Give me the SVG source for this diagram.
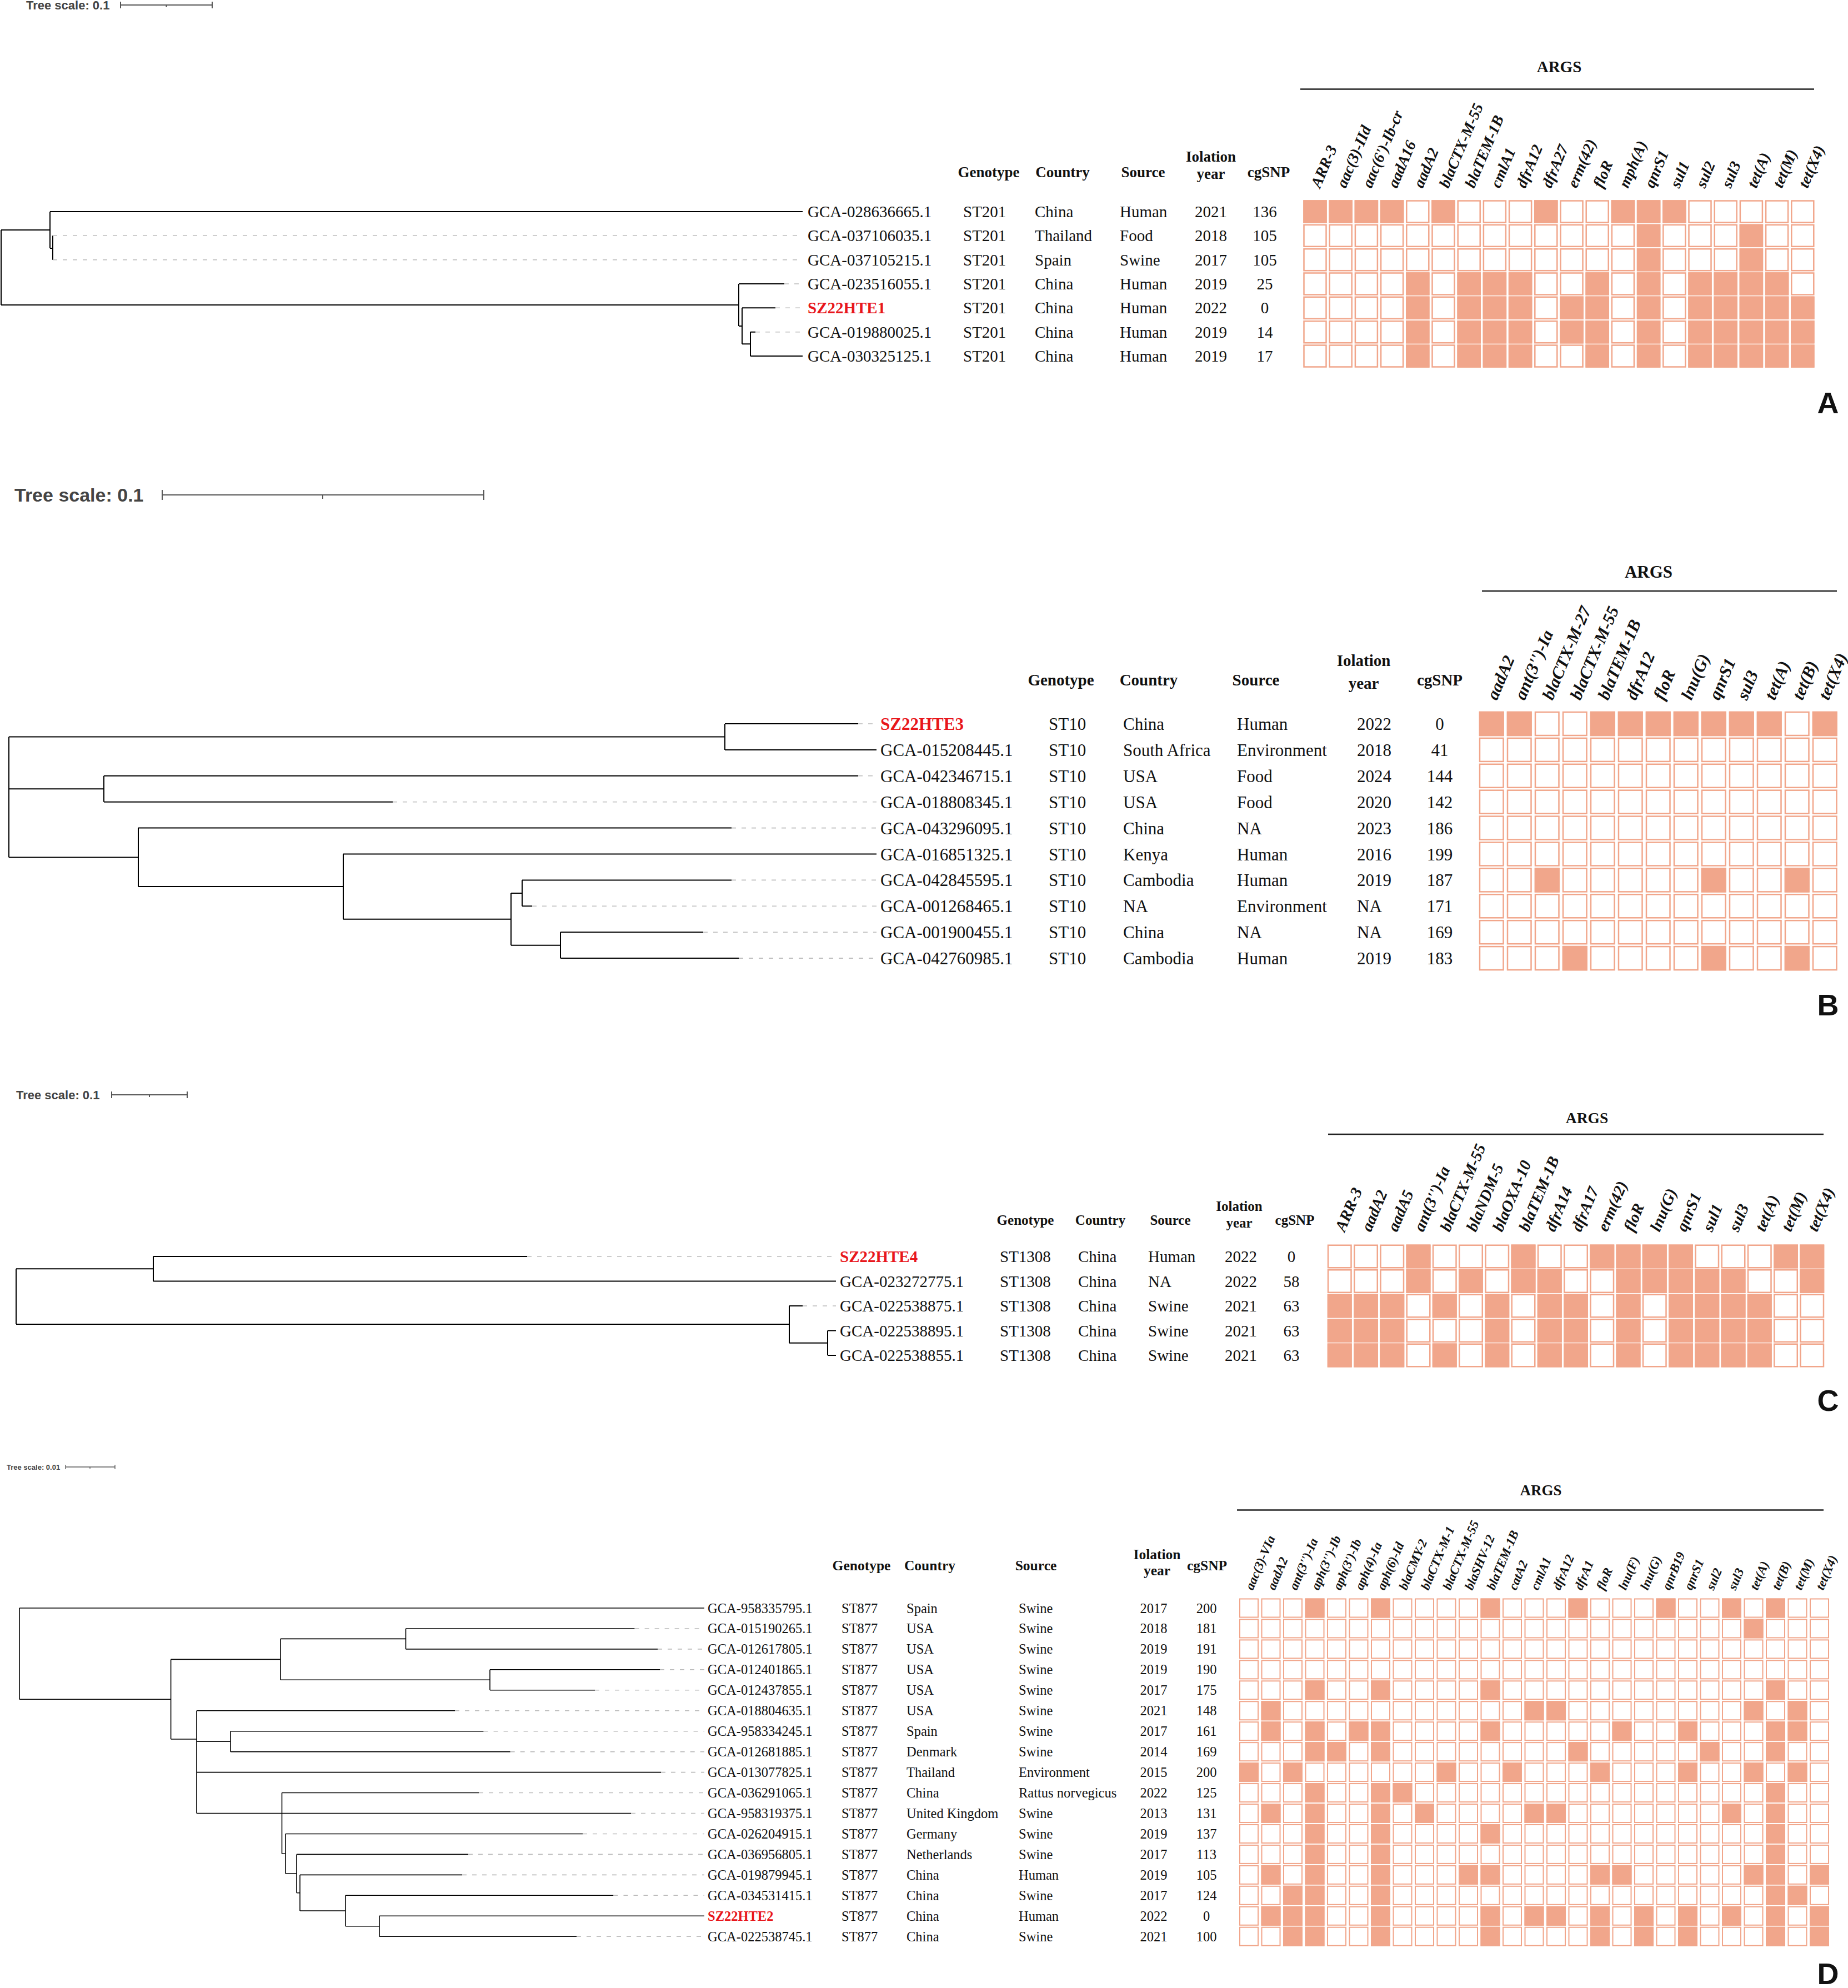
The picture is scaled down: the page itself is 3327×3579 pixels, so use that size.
<svg xmlns="http://www.w3.org/2000/svg" xmlns:xlink="http://www.w3.org/1999/xlink" width="3327" height="3579" viewBox="0 0 3327 3579">
<style>
.t{font-family:"Liberation Serif","Times New Roman",serif;fill:#111}
.h{font-weight:bold}
.m{text-anchor:middle}
.red{fill:#E8161B;font-weight:bold}
.g{font-family:"Liberation Serif","Times New Roman",serif;font-style:italic;font-weight:bold;fill:#111}
.sc{font-family:"Liberation Sans",Arial,sans-serif;font-weight:bold;fill:#444}
.pl{font-family:"Liberation Sans",Arial,sans-serif;font-weight:bold;fill:#111;font-size:54px;text-anchor:middle}
.br{stroke:#000;stroke-width:2;fill:none}
.brd{stroke:#000;stroke-width:1.6;fill:none}
.ds{stroke:#bbb;stroke-width:1.6;stroke-dasharray:8 10;fill:none}
.bar{stroke:#555;stroke-width:2;fill:none}
.f{fill:#F1A68B}
.e{fill:#fff}
.hm{stroke:#F1A68B;stroke-width:2.5}
.hmd{stroke:#F1A68B;stroke-width:2}
.rule{stroke:#222;stroke-width:2.5}
.fa{font-size:29px}.ha{font-size:27px}.ga{font-size:28px}
.fb{font-size:31px}.hb{font-size:29px}.gb{font-size:31px}
.fc{font-size:29px}.hc{font-size:25px}.gc{font-size:29px}
.fd{font-size:24.5px}.hd{font-size:25.5px}.gd{font-size:23px}
</style>
<defs>
<rect id="ca" width="40" height="39"/>
<rect id="cb" width="42.5" height="42"/>
<rect id="cc" width="41.5" height="40.5"/>
<rect id="cd" width="33" height="33"/>
<g id="rowA" class="e">
<use href="#ca" x="2347.5"/><use href="#ca" x="2393.7"/><use href="#ca" x="2439.9"/><use href="#ca" x="2486.1"/><use href="#ca" x="2532.3"/><use href="#ca" x="2578.5"/><use href="#ca" x="2624.7"/><use href="#ca" x="2670.9"/><use href="#ca" x="2717.1"/><use href="#ca" x="2763.3"/><use href="#ca" x="2809.5"/><use href="#ca" x="2855.7"/><use href="#ca" x="2901.9"/><use href="#ca" x="2948.1"/><use href="#ca" x="2994.3"/><use href="#ca" x="3040.5"/><use href="#ca" x="3086.7"/><use href="#ca" x="3132.9"/><use href="#ca" x="3179.1"/><use href="#ca" x="3225.3"/>
</g>
<g id="rowB" class="e">
<use href="#cb" x="2664"/><use href="#cb" x="2714"/><use href="#cb" x="2764"/><use href="#cb" x="2814"/><use href="#cb" x="2864"/><use href="#cb" x="2914"/><use href="#cb" x="2964"/><use href="#cb" x="3014"/><use href="#cb" x="3064"/><use href="#cb" x="3114"/><use href="#cb" x="3164"/><use href="#cb" x="3214"/><use href="#cb" x="3264"/>
</g>
<g id="rowC" class="e">
<use href="#cc" x="2391"/><use href="#cc" x="2438.25"/><use href="#cc" x="2485.5"/><use href="#cc" x="2532.75"/><use href="#cc" x="2580"/><use href="#cc" x="2627.25"/><use href="#cc" x="2674.5"/><use href="#cc" x="2721.75"/><use href="#cc" x="2769"/><use href="#cc" x="2816.25"/><use href="#cc" x="2863.5"/><use href="#cc" x="2910.75"/><use href="#cc" x="2958"/><use href="#cc" x="3005.25"/><use href="#cc" x="3052.5"/><use href="#cc" x="3099.75"/><use href="#cc" x="3147"/><use href="#cc" x="3194.25"/><use href="#cc" x="3241.5"/>
</g>
<g id="rowD" class="e">
<use href="#cd" x="2232"/><use href="#cd" x="2271.5"/><use href="#cd" x="2311"/><use href="#cd" x="2350.5"/><use href="#cd" x="2390"/><use href="#cd" x="2429.5"/><use href="#cd" x="2469"/><use href="#cd" x="2508.5"/><use href="#cd" x="2548"/><use href="#cd" x="2587.5"/><use href="#cd" x="2627"/><use href="#cd" x="2666.5"/><use href="#cd" x="2706"/><use href="#cd" x="2745.5"/><use href="#cd" x="2785"/><use href="#cd" x="2824.5"/><use href="#cd" x="2864"/><use href="#cd" x="2903.5"/><use href="#cd" x="2943"/><use href="#cd" x="2982.5"/><use href="#cd" x="3022"/><use href="#cd" x="3061.5"/><use href="#cd" x="3101"/><use href="#cd" x="3140.5"/><use href="#cd" x="3180"/><use href="#cd" x="3219.5"/><use href="#cd" x="3259"/>
</g>
</defs>
<rect width="3327" height="3579" fill="#fff"/>

<!-- ===================== PANEL A ===================== -->
<g id="panelA">
<g id="scaleA">
<text class="sc" x="47" y="17" font-size="22">Tree scale: 0.1</text>
<path class="bar" d="M217,9H382M217,3V15M382,3V15M299.5,9V13"/>
</g>
<g id="connectorsA">
<path class="br" d="M2,414V549M2,414H90M90,381V447M90,381H1445M90,447H95M95,424.3V467.7M2,549H1330M1330,511V587M1330,511H1412M1330,587H1336M1336,554.3V619.3M1336,554.3H1396M1336,619.3H1351M1351,597.7V641M1351,597.7H1360M1351,641H1445"/>
<path class="ds" d="M95,424.3H1445M95,467.7H1445M1412,511H1445M1396,554.3H1445M1360,597.7H1445"/>
</g>
<g id="headA" class="t h ha">
<text class="m" x="1780" y="319">Genotype</text>
<text class="m" x="1913" y="319">Country</text>
<text class="m" x="2058" y="319">Source</text>
<text class="m" x="2180" y="291">Iolation</text>
<text class="m" x="2180" y="322">year</text>
<text class="m" x="2284" y="319">cgSNP</text>
</g>
<g id="rowsA" class="t fa">
<g id="A-r0"><text x="1454" y="391">GCA-028636665.1</text><text x="1734" y="391">ST201</text><text x="1863" y="391">China</text><text x="2016" y="391">Human</text><text class="m" x="2180" y="391">2021</text><text class="m" x="2277" y="391">136</text></g>
<g id="A-r1"><text x="1454" y="434.3">GCA-037106035.1</text><text x="1734" y="434.3">ST201</text><text x="1863" y="434.3">Thailand</text><text x="2016" y="434.3">Food</text><text class="m" x="2180" y="434.3">2018</text><text class="m" x="2277" y="434.3">105</text></g>
<g id="A-r2"><text x="1454" y="477.7">GCA-037105215.1</text><text x="1734" y="477.7">ST201</text><text x="1863" y="477.7">Spain</text><text x="2016" y="477.7">Swine</text><text class="m" x="2180" y="477.7">2017</text><text class="m" x="2277" y="477.7">105</text></g>
<g id="A-r3"><text x="1454" y="521">GCA-023516055.1</text><text x="1734" y="521">ST201</text><text x="1863" y="521">China</text><text x="2016" y="521">Human</text><text class="m" x="2180" y="521">2019</text><text class="m" x="2277" y="521">25</text></g>
<g id="A-r4"><text class="red" x="1454" y="564.3">SZ22HTE1</text><text x="1734" y="564.3">ST201</text><text x="1863" y="564.3">China</text><text x="2016" y="564.3">Human</text><text class="m" x="2180" y="564.3">2022</text><text class="m" x="2277" y="564.3">0</text></g>
<g id="A-r5"><text x="1454" y="607.7">GCA-019880025.1</text><text x="1734" y="607.7">ST201</text><text x="1863" y="607.7">China</text><text x="2016" y="607.7">Human</text><text class="m" x="2180" y="607.7">2019</text><text class="m" x="2277" y="607.7">14</text></g>
<g id="A-r6"><text x="1454" y="651">GCA-030325125.1</text><text x="1734" y="651">ST201</text><text x="1863" y="651">China</text><text x="2016" y="651">Human</text><text class="m" x="2180" y="651">2019</text><text class="m" x="2277" y="651">17</text></g>
</g>
<g id="argsA">
<text class="t h m" x="2807" y="130" font-size="29">ARGS</text>
<path class="rule" d="M2341,160.5H3266"/>
</g>
<g id="genesA" class="g ga">
<text transform="translate(2376.5 340) rotate(-67)">ARR-3</text>
<text transform="translate(2422.7 340) rotate(-67)">aac(3)-IId</text>
<text transform="translate(2468.9 340) rotate(-67)">aac(6')-Ib-cr</text>
<text transform="translate(2515.1 340) rotate(-67)">aadA16</text>
<text transform="translate(2561.3 340) rotate(-67)">aadA2</text>
<text transform="translate(2607.5 340) rotate(-67)">blaCTX-M-55</text>
<text transform="translate(2653.7 340) rotate(-67)">blaTEM-1B</text>
<text transform="translate(2699.9 340) rotate(-67)">cmlA1</text>
<text transform="translate(2746.1 340) rotate(-67)">dfrA12</text>
<text transform="translate(2792.3 340) rotate(-67)">dfrA27</text>
<text transform="translate(2838.5 340) rotate(-67)">erm(42)</text>
<text transform="translate(2884.7 340) rotate(-67)">floR</text>
<text transform="translate(2930.9 340) rotate(-67)">mph(A)</text>
<text transform="translate(2977.1 340) rotate(-67)">qnrS1</text>
<text transform="translate(3023.3 340) rotate(-67)">sul1</text>
<text transform="translate(3069.5 340) rotate(-67)">sul2</text>
<text transform="translate(3115.7 340) rotate(-67)">sul3</text>
<text transform="translate(3161.9 340) rotate(-67)">tet(A)</text>
<text transform="translate(3208.1 340) rotate(-67)">tet(M)</text>
<text transform="translate(3254.3 340) rotate(-67)">tet(X4)</text>
</g>
<g id="heatA" class="hm">
<use href="#rowA" y="361.5"/><use href="#rowA" y="404.8"/><use href="#rowA" y="448.2"/><use href="#rowA" y="491.5"/><use href="#rowA" y="534.8"/><use href="#rowA" y="578.2"/><use href="#rowA" y="621.5"/>
<g class="f">
<use href="#ca" x="2347.5" y="361.5"/><use href="#ca" x="2393.7" y="361.5"/><use href="#ca" x="2439.9" y="361.5"/><use href="#ca" x="2486.1" y="361.5"/><use href="#ca" x="2578.5" y="361.5"/><use href="#ca" x="2763.3" y="361.5"/><use href="#ca" x="2901.9" y="361.5"/><use href="#ca" x="2948.1" y="361.5"/><use href="#ca" x="2994.3" y="361.5"/>
<use href="#ca" x="2948.1" y="404.8"/><use href="#ca" x="3132.9" y="404.8"/>
<use href="#ca" x="2948.1" y="448.2"/><use href="#ca" x="3132.9" y="448.2"/>
<use href="#ca" x="2532.3" y="491.5"/><use href="#ca" x="2624.7" y="491.5"/><use href="#ca" x="2670.9" y="491.5"/><use href="#ca" x="2717.1" y="491.5"/><use href="#ca" x="2855.7" y="491.5"/><use href="#ca" x="2948.1" y="491.5"/><use href="#ca" x="3040.5" y="491.5"/><use href="#ca" x="3086.7" y="491.5"/><use href="#ca" x="3132.9" y="491.5"/><use href="#ca" x="3179.1" y="491.5"/>
<use href="#ca" x="2532.3" y="534.8"/><use href="#ca" x="2624.7" y="534.8"/><use href="#ca" x="2670.9" y="534.8"/><use href="#ca" x="2717.1" y="534.8"/><use href="#ca" x="2809.5" y="534.8"/><use href="#ca" x="2855.7" y="534.8"/><use href="#ca" x="2948.1" y="534.8"/><use href="#ca" x="3040.5" y="534.8"/><use href="#ca" x="3086.7" y="534.8"/><use href="#ca" x="3132.9" y="534.8"/><use href="#ca" x="3179.1" y="534.8"/><use href="#ca" x="3225.3" y="534.8"/>
<use href="#ca" x="2532.3" y="578.2"/><use href="#ca" x="2624.7" y="578.2"/><use href="#ca" x="2670.9" y="578.2"/><use href="#ca" x="2717.1" y="578.2"/><use href="#ca" x="2809.5" y="578.2"/><use href="#ca" x="2855.7" y="578.2"/><use href="#ca" x="2948.1" y="578.2"/><use href="#ca" x="3040.5" y="578.2"/><use href="#ca" x="3086.7" y="578.2"/><use href="#ca" x="3132.9" y="578.2"/><use href="#ca" x="3179.1" y="578.2"/><use href="#ca" x="3225.3" y="578.2"/>
<use href="#ca" x="2532.3" y="621.5"/><use href="#ca" x="2624.7" y="621.5"/><use href="#ca" x="2670.9" y="621.5"/><use href="#ca" x="2717.1" y="621.5"/><use href="#ca" x="2855.7" y="621.5"/><use href="#ca" x="2948.1" y="621.5"/><use href="#ca" x="3040.5" y="621.5"/><use href="#ca" x="3086.7" y="621.5"/><use href="#ca" x="3132.9" y="621.5"/><use href="#ca" x="3179.1" y="621.5"/><use href="#ca" x="3225.3" y="621.5"/>
</g>
</g>
<text class="pl" x="3291" y="744">A</text>
</g>

<!-- ===================== PANEL B ===================== -->
<g id="panelB">
<g id="scaleB">
<text class="sc" x="26" y="903" font-size="34">Tree scale: 0.1</text>
<path class="bar" d="M292,891H871M292,882V900M871,882V900M581,891V898"/>
</g>
<g id="connectorsB">
<path class="br" d="M16,1326.5V1543.4M16,1326.5H1305M1305,1303V1349.9M1305,1303H1545M1305,1349.9H1578M16,1420.3H187M187,1396.8V1443.7M187,1396.8H1545M187,1443.7H707M16,1543.4H249M249,1490.6V1596.1M249,1490.6H1317M249,1596.1H618M618,1537.5V1654.8M618,1537.5H1578M618,1654.8H920M920,1607.9V1701.7M920,1607.9H940M940,1584.4V1631.3M940,1584.4H1317M940,1631.3H958M920,1701.7H1009M1009,1678.2V1725.1M1009,1678.2H1266M1009,1725.1H1330"/>
<path class="ds" d="M1545,1303H1578M1545,1396.8H1578M707,1443.7H1578M1317,1490.6H1578M1317,1584.4H1578M958,1631.3H1578M1266,1678.2H1578M1330,1725.1H1578"/>
</g>
<g id="headB" class="t h hb">
<text class="m" x="1910" y="1234">Genotype</text>
<text class="m" x="2068" y="1234">Country</text>
<text class="m" x="2261" y="1234">Source</text>
<text class="m" x="2455" y="1199">Iolation</text>
<text class="m" x="2455" y="1240">year</text>
<text class="m" x="2592" y="1234">cgSNP</text>
</g>
<g id="rowsB" class="t fb">
<g id="B-r0"><text class="red" x="1585" y="1314">SZ22HTE3</text><text x="1888" y="1314">ST10</text><text x="2022" y="1314">China</text><text x="2227" y="1314">Human</text><text x="2443" y="1314">2022</text><text class="m" x="2592" y="1314">0</text></g>
<g id="B-r1"><text x="1585" y="1360.9">GCA-015208445.1</text><text x="1888" y="1360.9">ST10</text><text x="2022" y="1360.9">South Africa</text><text x="2227" y="1360.9">Environment</text><text x="2443" y="1360.9">2018</text><text class="m" x="2592" y="1360.9">41</text></g>
<g id="B-r2"><text x="1585" y="1407.8">GCA-042346715.1</text><text x="1888" y="1407.8">ST10</text><text x="2022" y="1407.8">USA</text><text x="2227" y="1407.8">Food</text><text x="2443" y="1407.8">2024</text><text class="m" x="2592" y="1407.8">144</text></g>
<g id="B-r3"><text x="1585" y="1454.7">GCA-018808345.1</text><text x="1888" y="1454.7">ST10</text><text x="2022" y="1454.7">USA</text><text x="2227" y="1454.7">Food</text><text x="2443" y="1454.7">2020</text><text class="m" x="2592" y="1454.7">142</text></g>
<g id="B-r4"><text x="1585" y="1501.6">GCA-043296095.1</text><text x="1888" y="1501.6">ST10</text><text x="2022" y="1501.6">China</text><text x="2227" y="1501.6">NA</text><text x="2443" y="1501.6">2023</text><text class="m" x="2592" y="1501.6">186</text></g>
<g id="B-r5"><text x="1585" y="1548.5">GCA-016851325.1</text><text x="1888" y="1548.5">ST10</text><text x="2022" y="1548.5">Kenya</text><text x="2227" y="1548.5">Human</text><text x="2443" y="1548.5">2016</text><text class="m" x="2592" y="1548.5">199</text></g>
<g id="B-r6"><text x="1585" y="1595.4">GCA-042845595.1</text><text x="1888" y="1595.4">ST10</text><text x="2022" y="1595.4">Cambodia</text><text x="2227" y="1595.4">Human</text><text x="2443" y="1595.4">2019</text><text class="m" x="2592" y="1595.4">187</text></g>
<g id="B-r7"><text x="1585" y="1642.3">GCA-001268465.1</text><text x="1888" y="1642.3">ST10</text><text x="2022" y="1642.3">NA</text><text x="2227" y="1642.3">Environment</text><text x="2443" y="1642.3">NA</text><text class="m" x="2592" y="1642.3">171</text></g>
<g id="B-r8"><text x="1585" y="1689.2">GCA-001900455.1</text><text x="1888" y="1689.2">ST10</text><text x="2022" y="1689.2">China</text><text x="2227" y="1689.2">NA</text><text x="2443" y="1689.2">NA</text><text class="m" x="2592" y="1689.2">169</text></g>
<g id="B-r9"><text x="1585" y="1736.1">GCA-042760985.1</text><text x="1888" y="1736.1">ST10</text><text x="2022" y="1736.1">Cambodia</text><text x="2227" y="1736.1">Human</text><text x="2443" y="1736.1">2019</text><text class="m" x="2592" y="1736.1">183</text></g>
</g>
<g id="argsB">
<text class="t h m" x="2968" y="1040" font-size="31">ARGS</text>
<path class="rule" d="M2668,1064H3307"/>
</g>
<g id="genesB" class="g gb">
<text transform="translate(2695 1262) rotate(-67)">aadA2</text>
<text transform="translate(2745 1262) rotate(-67)">ant(3'')-Ia</text>
<text transform="translate(2795 1262) rotate(-67)">blaCTX-M-27</text>
<text transform="translate(2845 1262) rotate(-67)">blaCTX-M-55</text>
<text transform="translate(2895 1262) rotate(-67)">blaTEM-1B</text>
<text transform="translate(2945 1262) rotate(-67)">dfrA12</text>
<text transform="translate(2995 1262) rotate(-67)">floR</text>
<text transform="translate(3045 1262) rotate(-67)">lnu(G)</text>
<text transform="translate(3095 1262) rotate(-67)">qnrS1</text>
<text transform="translate(3145 1262) rotate(-67)">sul3</text>
<text transform="translate(3195 1262) rotate(-67)">tet(A)</text>
<text transform="translate(3245 1262) rotate(-67)">tet(B)</text>
<text transform="translate(3292 1262) rotate(-67)">tet(X4)</text>
</g>
<g id="heatB" class="hm">
<use href="#rowB" y="1282"/><use href="#rowB" y="1328.9"/><use href="#rowB" y="1375.8"/><use href="#rowB" y="1422.7"/><use href="#rowB" y="1469.6"/><use href="#rowB" y="1516.5"/><use href="#rowB" y="1563.4"/><use href="#rowB" y="1610.3"/><use href="#rowB" y="1657.2"/><use href="#rowB" y="1704.1"/>
<g class="f">
<use href="#cb" x="2664" y="1282"/><use href="#cb" x="2714" y="1282"/><use href="#cb" x="2864" y="1282"/><use href="#cb" x="2914" y="1282"/><use href="#cb" x="2964" y="1282"/><use href="#cb" x="3014" y="1282"/><use href="#cb" x="3064" y="1282"/><use href="#cb" x="3114" y="1282"/><use href="#cb" x="3164" y="1282"/><use href="#cb" x="3264" y="1282"/>
<use href="#cb" x="2764" y="1563.4"/><use href="#cb" x="3064" y="1563.4"/><use href="#cb" x="3214" y="1563.4"/>
<use href="#cb" x="2814" y="1704.1"/><use href="#cb" x="3064" y="1704.1"/><use href="#cb" x="3214" y="1704.1"/>
</g>
</g>
<text class="pl" x="3291" y="1828">B</text>
</g>

<!-- ===================== PANEL C ===================== -->
<g id="panelC">
<g id="scaleC">
<text class="sc" x="29" y="1979" font-size="22">Tree scale: 0.1</text>
<path class="bar" d="M201,1971H337M201,1965V1977M337,1965V1977M269,1971V1975"/>
</g>
<g id="connectorsC">
<path class="br" d="M29,2284.3V2384M29,2284.3H276M276,2262V2306.5M276,2262H949M276,2306.5H1505M29,2384H1421M1421,2351V2417.8M1421,2351H1445M1421,2417.8H1490M1490,2395.5V2440M1490,2395.5H1505M1490,2440H1505"/>
<path class="ds" d="M949,2262H1505M1445,2351H1505"/>
</g>
<g id="headC" class="t h hc">
<text class="m" x="1846" y="2205">Genotype</text>
<text class="m" x="1981" y="2205">Country</text>
<text class="m" x="2107" y="2205">Source</text>
<text class="m" x="2231" y="2180">Iolation</text>
<text class="m" x="2231" y="2210">year</text>
<text class="m" x="2331" y="2205">cgSNP</text>
</g>
<g id="rowsC" class="t fc">
<g id="C-r0"><text class="red" x="1512" y="2272">SZ22HTE4</text><text x="1800" y="2272">ST1308</text><text x="1941" y="2272">China</text><text x="2067" y="2272">Human</text><text class="m" x="2234" y="2272">2022</text><text class="m" x="2325" y="2272">0</text></g>
<g id="C-r1"><text x="1512" y="2316.5">GCA-023272775.1</text><text x="1800" y="2316.5">ST1308</text><text x="1941" y="2316.5">China</text><text x="2067" y="2316.5">NA</text><text class="m" x="2234" y="2316.5">2022</text><text class="m" x="2325" y="2316.5">58</text></g>
<g id="C-r2"><text x="1512" y="2361">GCA-022538875.1</text><text x="1800" y="2361">ST1308</text><text x="1941" y="2361">China</text><text x="2067" y="2361">Swine</text><text class="m" x="2234" y="2361">2021</text><text class="m" x="2325" y="2361">63</text></g>
<g id="C-r3"><text x="1512" y="2405.5">GCA-022538895.1</text><text x="1800" y="2405.5">ST1308</text><text x="1941" y="2405.5">China</text><text x="2067" y="2405.5">Swine</text><text class="m" x="2234" y="2405.5">2021</text><text class="m" x="2325" y="2405.5">63</text></g>
<g id="C-r4"><text x="1512" y="2450">GCA-022538855.1</text><text x="1800" y="2450">ST1308</text><text x="1941" y="2450">China</text><text x="2067" y="2450">Swine</text><text class="m" x="2234" y="2450">2021</text><text class="m" x="2325" y="2450">63</text></g>
</g>
<g id="argsC">
<text class="t h m" x="2857" y="2022" font-size="27.5">ARGS</text>
<path class="rule" d="M2391,2042H3283"/>
</g>
<g id="genesC" class="g gc">
<text transform="translate(2420.75 2219) rotate(-67)">ARR-3</text>
<text transform="translate(2468 2219) rotate(-67)">aadA2</text>
<text transform="translate(2515.25 2219) rotate(-67)">aadA5</text>
<text transform="translate(2562.5 2219) rotate(-67)">ant(3'')-Ia</text>
<text transform="translate(2609.75 2219) rotate(-67)">blaCTX-M-55</text>
<text transform="translate(2657 2219) rotate(-67)">blaNDM-5</text>
<text transform="translate(2704.25 2219) rotate(-67)">blaOXA-10</text>
<text transform="translate(2751.5 2219) rotate(-67)">blaTEM-1B</text>
<text transform="translate(2798.75 2219) rotate(-67)">dfrA14</text>
<text transform="translate(2846 2219) rotate(-67)">dfrA17</text>
<text transform="translate(2893.25 2219) rotate(-67)">erm(42)</text>
<text transform="translate(2940.5 2219) rotate(-67)">floR</text>
<text transform="translate(2987.75 2219) rotate(-67)">lnu(G)</text>
<text transform="translate(3035 2219) rotate(-67)">qnrS1</text>
<text transform="translate(3082.25 2219) rotate(-67)">sul1</text>
<text transform="translate(3129.5 2219) rotate(-67)">sul3</text>
<text transform="translate(3176.75 2219) rotate(-67)">tet(A)</text>
<text transform="translate(3224 2219) rotate(-67)">tet(M)</text>
<text transform="translate(3271.25 2219) rotate(-67)">tet(X4)</text>
</g>
<g id="heatC" class="hm">
<use href="#rowC" y="2241.75"/><use href="#rowC" y="2286.25"/><use href="#rowC" y="2330.75"/><use href="#rowC" y="2375.25"/><use href="#rowC" y="2419.75"/>
<g class="f">
<use href="#cc" x="2532.75" y="2241.75"/><use href="#cc" x="2721.75" y="2241.75"/><use href="#cc" x="2863.5" y="2241.75"/><use href="#cc" x="2910.75" y="2241.75"/><use href="#cc" x="2958" y="2241.75"/><use href="#cc" x="3005.25" y="2241.75"/><use href="#cc" x="3194.25" y="2241.75"/><use href="#cc" x="3241.5" y="2241.75"/>
<use href="#cc" x="2532.75" y="2286.25"/><use href="#cc" x="2627.25" y="2286.25"/><use href="#cc" x="2721.75" y="2286.25"/><use href="#cc" x="2769" y="2286.25"/><use href="#cc" x="2910.75" y="2286.25"/><use href="#cc" x="2958" y="2286.25"/><use href="#cc" x="3005.25" y="2286.25"/><use href="#cc" x="3052.5" y="2286.25"/><use href="#cc" x="3099.75" y="2286.25"/><use href="#cc" x="3241.5" y="2286.25"/>
<use href="#cc" x="2391" y="2330.75"/><use href="#cc" x="2438.25" y="2330.75"/><use href="#cc" x="2485.5" y="2330.75"/><use href="#cc" x="2580" y="2330.75"/><use href="#cc" x="2674.5" y="2330.75"/><use href="#cc" x="2769" y="2330.75"/><use href="#cc" x="2816.25" y="2330.75"/><use href="#cc" x="2910.75" y="2330.75"/><use href="#cc" x="3005.25" y="2330.75"/><use href="#cc" x="3052.5" y="2330.75"/><use href="#cc" x="3099.75" y="2330.75"/><use href="#cc" x="3147" y="2330.75"/>
<use href="#cc" x="2391" y="2375.25"/><use href="#cc" x="2438.25" y="2375.25"/><use href="#cc" x="2485.5" y="2375.25"/><use href="#cc" x="2674.5" y="2375.25"/><use href="#cc" x="2769" y="2375.25"/><use href="#cc" x="2816.25" y="2375.25"/><use href="#cc" x="2910.75" y="2375.25"/><use href="#cc" x="3005.25" y="2375.25"/><use href="#cc" x="3052.5" y="2375.25"/><use href="#cc" x="3099.75" y="2375.25"/><use href="#cc" x="3147" y="2375.25"/>
<use href="#cc" x="2391" y="2419.75"/><use href="#cc" x="2438.25" y="2419.75"/><use href="#cc" x="2485.5" y="2419.75"/><use href="#cc" x="2580" y="2419.75"/><use href="#cc" x="2674.5" y="2419.75"/><use href="#cc" x="2769" y="2419.75"/><use href="#cc" x="2816.25" y="2419.75"/><use href="#cc" x="2910.75" y="2419.75"/><use href="#cc" x="3005.25" y="2419.75"/><use href="#cc" x="3052.5" y="2419.75"/><use href="#cc" x="3099.75" y="2419.75"/><use href="#cc" x="3147" y="2419.75"/>
</g>
</g>
<text class="pl" x="3291" y="2540">C</text>
</g>

<!-- ===================== PANEL D ===================== -->
<g id="panelD">
<g id="scaleD">
<text class="sc" x="12" y="2646" font-size="13">Tree scale: 0.01</text>
<path class="bar" d="M118,2641H207M118,2637V2645M207,2637V2645M162,2641V2644" style="stroke-width:1.3"/>
</g>
<g id="connectorsD">
<path class="brd" d="M35,2895V3059.2M35,2895H1268M35,3059.2H307.6M307.6,2987.4V3131M307.6,2987.4H505M505,2950.4V3024.3M505,2950.4H730.5M730.5,2931.95V2968.9M730.5,2931.95H1142.6M730.5,2968.9H1184M505,3024.3H882M882,3005.85V3042.8M882,3005.85H1188M882,3042.8H1071M307.6,3131H354M354,3079.75V3264.5M354,3079.75H819M354,3135.2H415M415,3116.7V3153.65M415,3116.7H870.6M415,3153.65H918.7M354,3190.6H1190M354,3264.5H1136M507.5,3227.55V3337.2M507.5,3227.55H862M507.5,3337.2H514M514,3301.45V3373M514,3301.45H1049M514,3373H534M534,3338.4V3407.7M534,3338.4H843M534,3407.7H540M540,3375.35V3440M540,3375.35H832M540,3440H622M622,3412.3V3467.7M622,3412.3H1104.5M622,3467.7H683M683,3449.25V3486.2M683,3449.25H1268M683,3486.2H1038"/>
<path class="ds" d="M1142.6,2931.95H1268M1184,2968.9H1268M1188,3005.85H1268M1071,3042.8H1268M819,3079.75H1268M870.6,3116.7H1268M918.7,3153.65H1268M1190,3190.6H1268M862,3227.55H1268M1136,3264.5H1268M1049,3301.45H1268M843,3338.4H1268M832,3375.35H1268M1104.5,3412.3H1268M1038,3486.2H1268"/>
</g>
<g id="headD" class="t h hd">
<text class="m" x="1551" y="2827">Genotype</text>
<text class="m" x="1674" y="2827">Country</text>
<text class="m" x="1865" y="2827">Source</text>
<text class="m" x="2083" y="2807">Iolation</text>
<text class="m" x="2083" y="2836">year</text>
<text class="m" x="2173" y="2827">cgSNP</text>
</g>
<g id="rowsD" class="t fd">
<g id="D-r0"><text x="1274" y="2903.5">GCA-958335795.1</text><text x="1515" y="2903.5">ST877</text><text x="1632" y="2903.5">Spain</text><text x="1834" y="2903.5">Swine</text><text class="m" x="2077" y="2903.5">2017</text><text class="m" x="2172" y="2903.5">200</text></g>
<g id="D-r1"><text x="1274" y="2940.45">GCA-015190265.1</text><text x="1515" y="2940.45">ST877</text><text x="1632" y="2940.45">USA</text><text x="1834" y="2940.45">Swine</text><text class="m" x="2077" y="2940.45">2018</text><text class="m" x="2172" y="2940.45">181</text></g>
<g id="D-r2"><text x="1274" y="2977.4">GCA-012617805.1</text><text x="1515" y="2977.4">ST877</text><text x="1632" y="2977.4">USA</text><text x="1834" y="2977.4">Swine</text><text class="m" x="2077" y="2977.4">2019</text><text class="m" x="2172" y="2977.4">191</text></g>
<g id="D-r3"><text x="1274" y="3014.35">GCA-012401865.1</text><text x="1515" y="3014.35">ST877</text><text x="1632" y="3014.35">USA</text><text x="1834" y="3014.35">Swine</text><text class="m" x="2077" y="3014.35">2019</text><text class="m" x="2172" y="3014.35">190</text></g>
<g id="D-r4"><text x="1274" y="3051.3">GCA-012437855.1</text><text x="1515" y="3051.3">ST877</text><text x="1632" y="3051.3">USA</text><text x="1834" y="3051.3">Swine</text><text class="m" x="2077" y="3051.3">2017</text><text class="m" x="2172" y="3051.3">175</text></g>
<g id="D-r5"><text x="1274" y="3088.25">GCA-018804635.1</text><text x="1515" y="3088.25">ST877</text><text x="1632" y="3088.25">USA</text><text x="1834" y="3088.25">Swine</text><text class="m" x="2077" y="3088.25">2021</text><text class="m" x="2172" y="3088.25">148</text></g>
<g id="D-r6"><text x="1274" y="3125.2">GCA-958334245.1</text><text x="1515" y="3125.2">ST877</text><text x="1632" y="3125.2">Spain</text><text x="1834" y="3125.2">Swine</text><text class="m" x="2077" y="3125.2">2017</text><text class="m" x="2172" y="3125.2">161</text></g>
<g id="D-r7"><text x="1274" y="3162.15">GCA-012681885.1</text><text x="1515" y="3162.15">ST877</text><text x="1632" y="3162.15">Denmark</text><text x="1834" y="3162.15">Swine</text><text class="m" x="2077" y="3162.15">2014</text><text class="m" x="2172" y="3162.15">169</text></g>
<g id="D-r8"><text x="1274" y="3199.1">GCA-013077825.1</text><text x="1515" y="3199.1">ST877</text><text x="1632" y="3199.1">Thailand</text><text x="1834" y="3199.1">Environment</text><text class="m" x="2077" y="3199.1">2015</text><text class="m" x="2172" y="3199.1">200</text></g>
<g id="D-r9"><text x="1274" y="3236.05">GCA-036291065.1</text><text x="1515" y="3236.05">ST877</text><text x="1632" y="3236.05">China</text><text x="1834" y="3236.05">Rattus norvegicus</text><text class="m" x="2077" y="3236.05">2022</text><text class="m" x="2172" y="3236.05">125</text></g>
<g id="D-r10"><text x="1274" y="3273">GCA-958319375.1</text><text x="1515" y="3273">ST877</text><text x="1632" y="3273">United Kingdom</text><text x="1834" y="3273">Swine</text><text class="m" x="2077" y="3273">2013</text><text class="m" x="2172" y="3273">131</text></g>
<g id="D-r11"><text x="1274" y="3309.95">GCA-026204915.1</text><text x="1515" y="3309.95">ST877</text><text x="1632" y="3309.95">Germany</text><text x="1834" y="3309.95">Swine</text><text class="m" x="2077" y="3309.95">2019</text><text class="m" x="2172" y="3309.95">137</text></g>
<g id="D-r12"><text x="1274" y="3346.9">GCA-036956805.1</text><text x="1515" y="3346.9">ST877</text><text x="1632" y="3346.9">Netherlands</text><text x="1834" y="3346.9">Swine</text><text class="m" x="2077" y="3346.9">2017</text><text class="m" x="2172" y="3346.9">113</text></g>
<g id="D-r13"><text x="1274" y="3383.85">GCA-019879945.1</text><text x="1515" y="3383.85">ST877</text><text x="1632" y="3383.85">China</text><text x="1834" y="3383.85">Human</text><text class="m" x="2077" y="3383.85">2019</text><text class="m" x="2172" y="3383.85">105</text></g>
<g id="D-r14"><text x="1274" y="3420.8">GCA-034531415.1</text><text x="1515" y="3420.8">ST877</text><text x="1632" y="3420.8">China</text><text x="1834" y="3420.8">Swine</text><text class="m" x="2077" y="3420.8">2017</text><text class="m" x="2172" y="3420.8">124</text></g>
<g id="D-r15"><text class="red" x="1274" y="3457.75">SZ22HTE2</text><text x="1515" y="3457.75">ST877</text><text x="1632" y="3457.75">China</text><text x="1834" y="3457.75">Human</text><text class="m" x="2077" y="3457.75">2022</text><text class="m" x="2172" y="3457.75">0</text></g>
<g id="D-r16"><text x="1274" y="3494.7">GCA-022538745.1</text><text x="1515" y="3494.7">ST877</text><text x="1632" y="3494.7">China</text><text x="1834" y="3494.7">Swine</text><text class="m" x="2077" y="3494.7">2021</text><text class="m" x="2172" y="3494.7">100</text></g>
</g>
<g id="argsD">
<text class="t h m" x="2774" y="2692" font-size="27">ARGS</text>
<path class="rule" d="M2227,2718.5H3283"/>
</g>
<g id="genesD" class="g gd">
<text transform="translate(2255.5 2864) rotate(-67)">aac(3)-VIa</text>
<text transform="translate(2295 2864) rotate(-67)">aadA2</text>
<text transform="translate(2334.5 2864) rotate(-67)">ant(3'')-Ia</text>
<text transform="translate(2374 2864) rotate(-67)">aph(3'')-Ib</text>
<text transform="translate(2413.5 2864) rotate(-67)">aph(3')-Ib</text>
<text transform="translate(2453 2864) rotate(-67)">aph(4)-Ia</text>
<text transform="translate(2492.5 2864) rotate(-67)">aph(6)-Id</text>
<text transform="translate(2532 2864) rotate(-67)">blaCMY-2</text>
<text transform="translate(2571.5 2864) rotate(-67)">blaCTX-M-1</text>
<text transform="translate(2611 2864) rotate(-67)">blaCTX-M-55</text>
<text transform="translate(2650.5 2864) rotate(-67)">blaSHV-12</text>
<text transform="translate(2690 2864) rotate(-67)">blaTEM-1B</text>
<text transform="translate(2729.5 2864) rotate(-67)">catA2</text>
<text transform="translate(2769 2864) rotate(-67)">cmlA1</text>
<text transform="translate(2808.5 2864) rotate(-67)">dfrA12</text>
<text transform="translate(2848 2864) rotate(-67)">dfrA1</text>
<text transform="translate(2887.5 2864) rotate(-67)">floR</text>
<text transform="translate(2927 2864) rotate(-67)">lnu(F)</text>
<text transform="translate(2966.5 2864) rotate(-67)">lnu(G)</text>
<text transform="translate(3006 2864) rotate(-67)">qnrB19</text>
<text transform="translate(3045.5 2864) rotate(-67)">qnrS1</text>
<text transform="translate(3085 2864) rotate(-67)">sul2</text>
<text transform="translate(3124.5 2864) rotate(-67)">sul3</text>
<text transform="translate(3164 2864) rotate(-67)">tet(A)</text>
<text transform="translate(3203.5 2864) rotate(-67)">tet(B)</text>
<text transform="translate(3243 2864) rotate(-67)">tet(M)</text>
<text transform="translate(3282.5 2864) rotate(-67)">tet(X4)</text>
</g>
<g id="heatD" class="hmd">
<use href="#rowD" y="2878.5"/><use href="#rowD" y="2915.45"/><use href="#rowD" y="2952.4"/><use href="#rowD" y="2989.35"/><use href="#rowD" y="3026.3"/><use href="#rowD" y="3063.25"/><use href="#rowD" y="3100.2"/><use href="#rowD" y="3137.15"/><use href="#rowD" y="3174.1"/><use href="#rowD" y="3211.05"/><use href="#rowD" y="3248"/><use href="#rowD" y="3284.95"/><use href="#rowD" y="3321.9"/><use href="#rowD" y="3358.85"/><use href="#rowD" y="3395.8"/><use href="#rowD" y="3432.75"/><use href="#rowD" y="3469.7"/>
<g class="f">
<use href="#cd" x="2350.5" y="2878.5"/><use href="#cd" x="2469" y="2878.5"/><use href="#cd" x="2666.5" y="2878.5"/><use href="#cd" x="2824.5" y="2878.5"/><use href="#cd" x="2982.5" y="2878.5"/><use href="#cd" x="3101" y="2878.5"/><use href="#cd" x="3180" y="2878.5"/>
<use href="#cd" x="3140.5" y="2915.45"/>
<use href="#cd" x="2350.5" y="3026.3"/><use href="#cd" x="2469" y="3026.3"/><use href="#cd" x="2666.5" y="3026.3"/><use href="#cd" x="3180" y="3026.3"/>
<use href="#cd" x="2271.5" y="3063.25"/><use href="#cd" x="2745.5" y="3063.25"/><use href="#cd" x="2785" y="3063.25"/><use href="#cd" x="3140.5" y="3063.25"/><use href="#cd" x="3219.5" y="3063.25"/>
<use href="#cd" x="2271.5" y="3100.2"/><use href="#cd" x="2350.5" y="3100.2"/><use href="#cd" x="2429.5" y="3100.2"/><use href="#cd" x="2469" y="3100.2"/><use href="#cd" x="2666.5" y="3100.2"/><use href="#cd" x="2903.5" y="3100.2"/><use href="#cd" x="3022" y="3100.2"/><use href="#cd" x="3180" y="3100.2"/><use href="#cd" x="3219.5" y="3100.2"/>
<use href="#cd" x="2350.5" y="3137.15"/><use href="#cd" x="2390" y="3137.15"/><use href="#cd" x="2469" y="3137.15"/><use href="#cd" x="2824.5" y="3137.15"/><use href="#cd" x="3061.5" y="3137.15"/><use href="#cd" x="3180" y="3137.15"/>
<use href="#cd" x="2232" y="3174.1"/><use href="#cd" x="2311" y="3174.1"/><use href="#cd" x="2587.5" y="3174.1"/><use href="#cd" x="2706" y="3174.1"/><use href="#cd" x="2864" y="3174.1"/><use href="#cd" x="3022" y="3174.1"/><use href="#cd" x="3140.5" y="3174.1"/><use href="#cd" x="3219.5" y="3174.1"/>
<use href="#cd" x="2350.5" y="3211.05"/><use href="#cd" x="2469" y="3211.05"/><use href="#cd" x="2508.5" y="3211.05"/><use href="#cd" x="3180" y="3211.05"/>
<use href="#cd" x="2271.5" y="3248"/><use href="#cd" x="2350.5" y="3248"/><use href="#cd" x="2469" y="3248"/><use href="#cd" x="2548" y="3248"/><use href="#cd" x="2745.5" y="3248"/><use href="#cd" x="2785" y="3248"/><use href="#cd" x="3101" y="3248"/><use href="#cd" x="3180" y="3248"/>
<use href="#cd" x="2350.5" y="3284.95"/><use href="#cd" x="2469" y="3284.95"/><use href="#cd" x="2666.5" y="3284.95"/><use href="#cd" x="3180" y="3284.95"/>
<use href="#cd" x="2350.5" y="3321.9"/><use href="#cd" x="2469" y="3321.9"/><use href="#cd" x="3180" y="3321.9"/>
<use href="#cd" x="2271.5" y="3358.85"/><use href="#cd" x="2350.5" y="3358.85"/><use href="#cd" x="2469" y="3358.85"/><use href="#cd" x="2627" y="3358.85"/><use href="#cd" x="2666.5" y="3358.85"/><use href="#cd" x="2864" y="3358.85"/><use href="#cd" x="2903.5" y="3358.85"/><use href="#cd" x="3140.5" y="3358.85"/><use href="#cd" x="3180" y="3358.85"/><use href="#cd" x="3259" y="3358.85"/>
<use href="#cd" x="2311" y="3395.8"/><use href="#cd" x="2350.5" y="3395.8"/><use href="#cd" x="2469" y="3395.8"/><use href="#cd" x="3180" y="3395.8"/><use href="#cd" x="3219.5" y="3395.8"/>
<use href="#cd" x="2271.5" y="3432.75"/><use href="#cd" x="2311" y="3432.75"/><use href="#cd" x="2350.5" y="3432.75"/><use href="#cd" x="2469" y="3432.75"/><use href="#cd" x="2666.5" y="3432.75"/><use href="#cd" x="2745.5" y="3432.75"/><use href="#cd" x="2785" y="3432.75"/><use href="#cd" x="2864" y="3432.75"/><use href="#cd" x="2943" y="3432.75"/><use href="#cd" x="3022" y="3432.75"/><use href="#cd" x="3101" y="3432.75"/><use href="#cd" x="3180" y="3432.75"/><use href="#cd" x="3259" y="3432.75"/>
<use href="#cd" x="2311" y="3469.7"/><use href="#cd" x="2350.5" y="3469.7"/><use href="#cd" x="2469" y="3469.7"/><use href="#cd" x="2666.5" y="3469.7"/><use href="#cd" x="2864" y="3469.7"/><use href="#cd" x="2943" y="3469.7"/><use href="#cd" x="3022" y="3469.7"/><use href="#cd" x="3180" y="3469.7"/><use href="#cd" x="3259" y="3469.7"/>
</g>
</g>
<text class="pl" x="3291" y="3572">D</text>
</g>
</svg>
